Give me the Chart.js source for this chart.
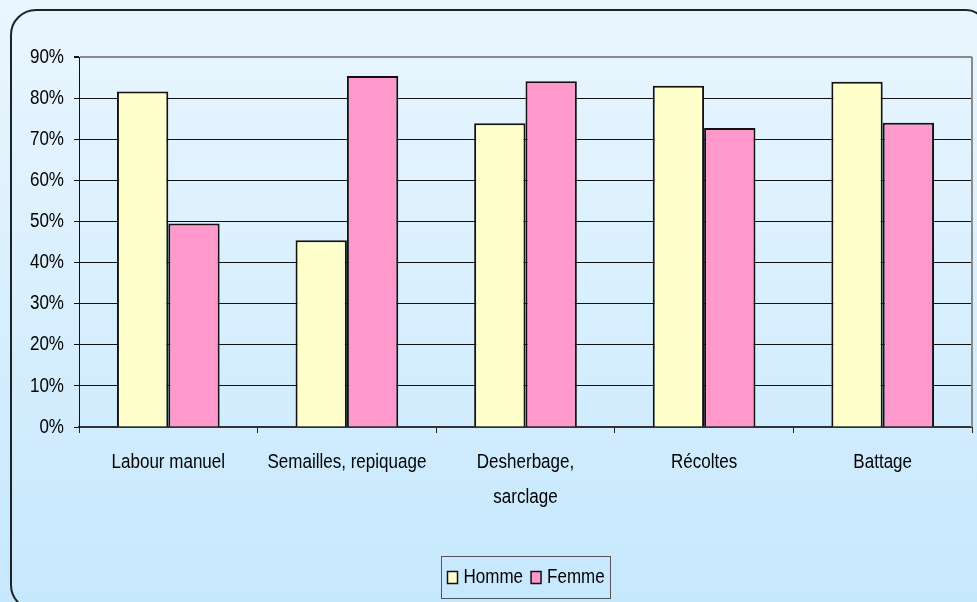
<!DOCTYPE html>
<html>
<head>
<meta charset="utf-8">
<script src="https://cdn.jsdelivr.net/npm/chart.js@4.4.1/dist/chart.umd.min.js"></script>
<style>
  html, body { margin: 0; padding: 0; background: #e9f5fd; }
  #wrap { width: 977px; height: 602px; position: relative; }
</style>
</head>
<body>
<div id="wrap"><canvas id="c" width="977" height="602"></canvas></div>
<script>
// ---- data ----
const categories = [['Labour manuel'], ['Semailles, repiquage'], ['Desherbage,', 'sarclage'], ['Récoltes'], ['Battage']];
const seriesNames = ['Homme', 'Femme'];
const hommeValues = [81.6, 45.4, 73.9, 83.0, 84.0];
const femmeValues = [49.5, 85.4, 84.1, 72.7, 74.0];
const yTickMax = 90;
const yTickStep = 10;
const tickSuffix = '%';

// ---- font: Arial-like, drawn horizontally condensed (like the original narrow rendering) ----
const FAMILY = "'Liberation Sans', Arial, sans-serif";
const SIZE = 20.5;
const SX = 0.83;

const canvas = document.getElementById('c');
const cctx = canvas.getContext('2d');
const origFill = cctx.fillText.bind(cctx);
const origMeasure = cctx.measureText.bind(cctx);
function condensed(c) { return c.font.indexOf('Liberation Sans') !== -1; }
cctx.fillText = function (t, x, y, mw) {
  if (condensed(this)) {
    this.save();
    this.translate(x, y);
    this.scale(SX, 1);
    if (mw !== undefined && mw !== null) origFill(t, 0, 0, mw / SX); else origFill(t, 0, 0);
    this.restore();
  } else {
    if (mw !== undefined && mw !== null) origFill(t, x, y, mw); else origFill(t, x, y);
  }
};
cctx.measureText = function (t) {
  const m = origMeasure(t);
  if (!condensed(this)) return m;
  return {
    width: m.width * SX,
    actualBoundingBoxLeft: m.actualBoundingBoxLeft * SX,
    actualBoundingBoxRight: m.actualBoundingBoxRight * SX,
    actualBoundingBoxAscent: m.actualBoundingBoxAscent,
    actualBoundingBoxDescent: m.actualBoundingBoxDescent,
    fontBoundingBoxAscent: m.fontBoundingBoxAscent,
    fontBoundingBoxDescent: m.fontBoundingBoxDescent
  };
};

const bgPlugin = {
  id: 'bg',
  beforeDraw(chart) {
    const { ctx, width, height } = chart;
    ctx.save();
    const g = ctx.createLinearGradient(0, 0, 0, height);
    g.addColorStop(0, '#eaf6fe');
    g.addColorStop(1, '#c6e8fd');
    ctx.fillStyle = g;
    ctx.fillRect(0, 0, width, height);
    // rounded frame (partly outside the picture on the right and bottom)
    const L = 11, T = 10, R = 986, B = 610;
    const rTL = 25, rTR = 20, rBR = 20, rBL = 25;
    ctx.beginPath();
    ctx.moveTo(L + rTL, T);
    ctx.lineTo(R - rTR, T);
    ctx.arcTo(R, T, R, T + rTR, rTR);
    ctx.lineTo(R, B - rBR);
    ctx.arcTo(R, B, R - rBR, B, rBR);
    ctx.lineTo(L + rBL, B);
    ctx.arcTo(L, B, L, B - rBL, rBL);
    ctx.lineTo(L, T + rTL);
    ctx.arcTo(L, T, L + rTL, T, rTL);
    ctx.closePath();
    ctx.lineWidth = 2;
    ctx.strokeStyle = '#1e2326';
    ctx.stroke();
    ctx.restore();
  },
  afterDraw(chart) {
    const { ctx, chartArea } = chart;
    ctx.save();
    // plot frame right edge (gray)
    ctx.strokeStyle = '#8a8a8a';
    ctx.lineWidth = 2;
    ctx.beginPath();
    ctx.moveTo(chartArea.right, chartArea.top);
    ctx.lineTo(chartArea.right, chartArea.bottom);
    ctx.stroke();
    // legend
    ctx.font = SIZE + 'px ' + FAMILY;
    ctx.textBaseline = 'middle';
    const ds = chart.data.datasets;
    const mw = 10, mh = 12, gap = 6, itemGap = 8, pad = 6;
    let total = pad * 2;
    const widths = ds.map(d => ctx.measureText(d.label).width);
    widths.forEach((tw, i) => { total += mw + gap + tw + (i > 0 ? itemGap : 0); });
    const cx = (chartArea.left + chartArea.right) / 2;
    const boxL = Math.round(cx - total / 2) + 0.5;
    const boxT = 556.5, boxH = 42;
    const cy = boxT + boxH / 2;
    ctx.strokeStyle = '#555';
    ctx.lineWidth = 1;
    ctx.strokeRect(boxL, boxT, Math.round(total), boxH);
    let xx = boxL + pad;
    ds.forEach((d, i) => {
      if (i > 0) xx += itemGap;
      ctx.fillStyle = d.backgroundColor;
      ctx.fillRect(xx, cy - mh / 2, mw, mh);
      ctx.strokeStyle = '#111';
      ctx.lineWidth = 1.5;
      ctx.strokeRect(xx, cy - mh / 2, mw, mh);
      xx += mw + gap;
      ctx.fillStyle = '#000';
      ctx.textAlign = 'left';
      ctx.fillText(d.label, xx, cy);
      xx += widths[i];
    });
    ctx.restore();
  }
};

new Chart(canvas, {
  type: 'bar',
  data: {
    labels: categories,
    datasets: [
      { label: seriesNames[0], data: hommeValues, backgroundColor: '#ffffcc', borderColor: '#111111', borderWidth: 2, borderSkipped: 'start' },
      { label: seriesNames[1], data: femmeValues, backgroundColor: '#ff99cc', borderColor: '#111111', borderWidth: 2, borderSkipped: 'start' }
    ]
  },
  options: {
    responsive: false,
    animation: false,
    layout: { padding: { top: 57, right: 5, left: 0, bottom: 0 } },
    plugins: { legend: { display: false }, tooltip: { enabled: false } },
    datasets: { bar: { categoryPercentage: 0.575, barPercentage: 1.0 } },
    scales: {
      x: {
        afterFit(scale) { scale.height = 175; },
        grid: { drawOnChartArea: false, drawTicks: true, tickLength: 6, tickColor: '#222', offset: true },
        border: { color: '#333', width: 2 },
        ticks: {
          color: '#000', font: { family: FAMILY, size: SIZE, lineHeight: 1.7 },
          padding: 12, maxRotation: 0, autoSkip: false
        }
      },
      y: {
        min: 0, max: yTickMax,
        afterFit(scale) { scale.width = 79; },
        grid: {
          color: ctx => ctx.tick && ctx.tick.value === yTickMax ? '#8a8a8a' : '#111',
          lineWidth: ctx => ctx.tick && ctx.tick.value === yTickMax ? 2 : 1,
          tickColor: '#111', tickLength: 5
        },
        border: { color: '#111', width: 1 },
        ticks: {
          stepSize: yTickStep, color: '#000', padding: 10,
          font: { family: FAMILY, size: SIZE },
          callback: v => v + tickSuffix
        }
      }
    }
  },
  plugins: [bgPlugin]
});
</script>
</body>
</html>
